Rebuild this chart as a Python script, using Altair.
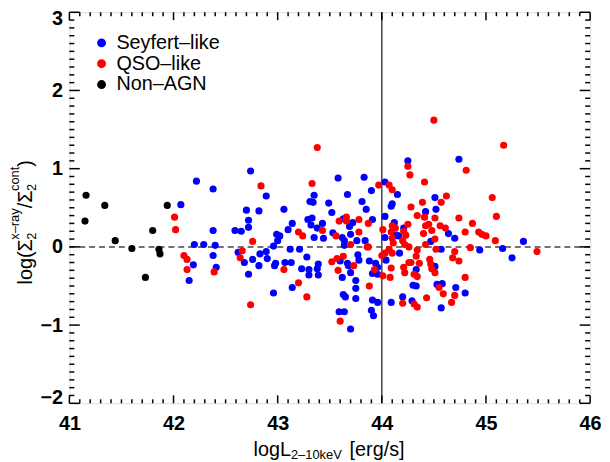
import altair as alt
import pandas as pd

# ---------------- data ----------------
nonagn_x = [41.16, 41.15, 41.34, 41.44, 41.60, 41.73, 41.80, 41.86, 41.87, 41.94]
nonagn_y = [0.66, 0.33, 0.53, 0.08, -0.02, -0.39, 0.21, -0.03, -0.09, 0.53]

qso_x = [42.01, 42.02, 42.10, 42.13, 42.13, 42.39, 42.76, 42.66, 42.64,
         43.38, 42.84, 43.33, 43.43, 43.20, 43.24, 43.06, 43.20, 43.28, 42.74,
         43.60, 43.58, 43.73, 43.52, 43.57, 43.63, 43.88, 43.93, 44.01, 44.08,
         44.09, 44.00, 44.03, 44.10, 44.07, 43.86, 43.87, 43.70, 43.56, 43.78,
         44.01, 44.09, 44.10, 44.11, 43.59, 43.66, 43.66, 43.78, 43.87, 43.97,
         44.07, 44.10,
         44.50, 45.17, 44.81, 44.25, 44.27, 44.41, 44.62, 44.57, 44.39, 44.28,
         44.34, 44.41, 44.51, 44.74, 45.06, 45.10, 44.87, 44.80, 44.93, 44.96,
         45.00, 45.09, 45.49, 44.85, 44.13, 44.10, 44.25, 44.21, 44.23, 44.45,
         44.42, 44.48, 44.40, 44.51, 44.42, 44.56, 44.61, 44.52, 44.20, 44.22,
         44.26, 44.34, 44.33, 44.21, 44.22, 44.26, 44.28, 44.31, 44.34, 44.36,
         44.46, 44.47, 44.48, 44.51, 44.70, 44.68, 44.74, 44.80, 44.55, 44.59,
         44.70, 44.67, 44.43, 44.20, 44.31, 44.34]
qso_y = [0.38, 0.22, -0.11, -0.16, -0.29, -0.32, 0.07, -0.05, -0.14,
         1.27, 0.78, 0.81, 0.21, 0.19, 0.14, -0.29, -0.46, -0.64, -0.74,
         -0.95, -0.30, -0.24, -0.19, -0.15, -0.12, -0.50, -0.29, -0.37, -0.39,
         -0.27, -0.11, -0.08, -0.08, -0.03, 0.00, 0.00, 0.03, 0.14, 0.19,
         0.22, 0.19, 0.11, 0.05, 0.33, 0.38, 0.33, 0.35, 0.30, 0.79,
         0.79, 0.73,
         1.62, 1.30, 0.98, 1.03, 0.92, 0.83, 0.65, 0.57, 0.57, 0.51,
         0.40, 0.38, 0.37, 0.37, 0.63, 0.39, 0.30, 0.19, 0.19, 0.16,
         0.14, 0.08, -0.06, -0.01, 0.24, 0.27, 0.29, 0.20, 0.15, 0.29,
         0.27, 0.21, 0.17, 0.10, 0.03, 0.27, 0.24, -0.03, 0.08, 0.03,
         0.00, -0.04, -0.12, -0.26, -0.33, -0.20, -0.20, -0.35, -0.38, -0.21,
         -0.16, -0.22, -0.28, -0.33, -0.06, -0.14, -0.18, -0.39, -0.52, -0.60,
         -0.62, -0.71, -0.65, -0.72, -0.73, -0.77]

seyfert_x = [42.07, 42.22, 42.38, 42.74, 42.70, 42.72, 42.72, 42.59, 42.65, 42.38,
             42.20, 42.29, 42.40, 42.38, 42.41, 42.19, 42.15, 42.68, 42.72, 42.76,
             42.62,
             42.89, 42.82, 43.06, 43.58, 43.83, 43.67, 43.35, 43.31, 43.34, 43.49,
             43.81, 43.90, 43.85, 43.52, 43.14, 43.10, 43.29, 43.33, 43.32, 43.43,
             43.38, 43.35, 43.44, 42.99, 43.02, 43.00, 42.96, 42.89, 42.83, 42.90,
             42.82, 42.98, 42.97, 43.07, 43.13, 43.12, 43.21, 43.28, 43.23, 43.30,
             43.30, 43.38, 43.39, 43.39, 43.14, 42.96, 43.59, 43.64, 43.70, 43.63,
             43.65, 43.75, 43.75, 43.75, 43.62, 43.70, 43.60, 43.67, 43.68, 43.77,
             43.78, 43.88, 43.91, 43.96, 43.90, 43.92, 43.94, 43.96, 43.91, 43.96,
             44.09, 44.04, 43.64, 43.64, 43.76, 43.84, 43.53, 43.70, 43.62, 44.03,
             43.63, 43.72, 43.69, 43.91, 44.03, 44.09, 44.10, 44.03,
             44.74, 44.25, 44.15, 44.51, 44.52, 44.42, 45.36, 45.25, 45.16, 44.94,
             44.12, 44.21, 44.14, 44.16, 44.47, 44.64, 44.70, 44.57, 44.17, 44.33,
             44.51, 44.30, 44.33, 44.53, 44.58, 44.71, 44.80, 44.20, 44.29, 44.57]
seyfert_y = [0.54, 0.84, 0.74, 0.97, 0.47, 0.34, 0.25, 0.21, 0.20, 0.21,
             0.03, 0.03, 0.02, -0.11, -0.26, -0.23, -0.43, -0.20, -0.35, -0.16,
             -0.07,
             0.65, 0.46, 0.48, 0.88, 0.89, 0.67, 0.66, 0.58, 0.57, 0.56,
             0.58, 0.72, 0.48, 0.44, 0.30, 0.22, 0.35, 0.37, 0.28, 0.30,
             0.24, 0.12, 0.11, 0.16, 0.14, 0.08, 0.01, -0.06, -0.09, -0.15,
             -0.24, -0.21, -0.24, -0.20, -0.20, -0.03, -0.03, -0.13, -0.28, -0.29,
             -0.36, -0.28, -0.36, -0.22, -0.52, -0.59, -0.83, -0.83, -1.05, -0.61,
             -0.64, -0.53, -0.43, -0.66, -0.39, -0.33, -0.18, -0.21, -0.24, -0.10,
             -0.17, -0.18, -0.68, -0.71, -0.81, -0.88, -0.21, -0.26, -0.34, -0.35,
             -0.71, -0.17, 0.08, 0.02, 0.08, 0.08, 0.18, 0.16, 0.12, 0.12,
             0.36, 0.31, 0.26, 0.35, 0.39, 0.52, 0.55, 0.83,
             1.12, 1.10, 0.67, 0.63, 0.48, 0.45, 0.07, -0.14, -0.02, -0.04,
             0.31, 0.24, 0.15, 0.14, 0.07, 0.17, 0.11, -0.03, -0.08, -0.29,
             -0.25, -0.49, -0.50, -0.48, -0.47, -0.52, -0.59, -0.64, -0.69, -0.78]

categories = ["Seyfert–like", "QSO–like", "Non–AGN"]
colors = ["#0000ff", "#ff0000", "#000000"]

XMIN, XMAX, YMIN, YMAX = 41, 46, -2, 3
x_major = [41, 42, 43, 44, 45, 46]
y_major = [-2, -1, 0, 1, 2, 3]
x_all = [round(41 + i / 10, 1) for i in range(51)]
y_all = [round(-2 + i / 10, 1) for i in range(51)]
x_split = [44]
y_split = [0]

W, H = 526, 395
FONT = "Liberation Sans"

pts = pd.concat([
    pd.DataFrame({"x": seyfert_x, "y": seyfert_y, "cls": categories[0]}),
    pd.DataFrame({"x": qso_x, "y": qso_y, "cls": categories[1]}),
    pd.DataFrame({"x": nonagn_x, "y": nonagn_y, "cls": categories[2]}),
], ignore_index=True)

xscale = alt.Scale(domain=[XMIN, XMAX], nice=False, zero=False)
yscale = alt.Scale(domain=[YMIN, YMAX], nice=False, zero=False)

xaxis = alt.Axis(title=None, values=x_major, format="d", grid=False, domain=False,
                 ticks=False, tickSize=0, labelFontSize=20, labelFont=FONT,
                 labelFontWeight="bold", labelColor="black", labelPadding=10,
                 labelFlush=False)
yaxis = alt.Axis(title=None, values=y_major, format="d", grid=False, domain=False,
                 ticks=False, tickSize=0, labelFontSize=20, labelFont=FONT,
                 labelFontWeight="bold", labelColor="black", labelPadding=7,
                 labelFlush=False,
                 labelOffset={"condition": {"test": "datum.value == 3", "value": 6}, "value": 0},
                 labelBaseline={"condition": {"test": "datum.value == -2", "value": "alphabetic"},
                                "value": "middle"})


def X(f):
    return alt.X(f, type="quantitative", scale=xscale, axis=xaxis)


def Y(f):
    return alt.Y(f, type="quantitative", scale=yscale, axis=yaxis)


layers = []

# reference lines
layers.append(alt.Chart(pd.DataFrame({"v": y_split})).mark_rule(
    color="#444444", strokeWidth=1.5, strokeDash=[6, 4]).encode(y=Y("v")))
layers.append(alt.Chart(pd.DataFrame({"v": x_split})).mark_rule(
    color="#444444", strokeWidth=1.5).encode(x=X("v")))

# points
layers.append(alt.Chart(pts).mark_circle(size=52, opacity=1).encode(
    x=X("x"), y=Y("y"),
    color=alt.Color("cls:N", scale=alt.Scale(domain=categories, range=colors),
                    sort=categories,
                    legend=alt.Legend(title=None, orient="none", legendX=22.5, legendY=21,
                                      labelFontSize=20, labelFont=FONT, labelColor="black",
                                      symbolType="circle", symbolSize=80, symbolStrokeWidth=0,
                                      labelOffset=5, rowPadding=1, padding=0)),
))

# inward axis ticks on all four frame edges (same linear mapping as the scales)
one = pd.DataFrame({"k": [0]})


def is_major(v):
    return abs(v - round(v)) < 1e-6


def tick_rule(**enc):
    return alt.Chart(one).mark_rule(color="black", strokeWidth=1.5).encode(**enc)


for v in x_all:
    px = (v - XMIN) / (XMAX - XMIN) * W
    ln = 8 if is_major(v) else 4
    layers.append(tick_rule(x=alt.value(px), y=alt.value(H), y2=alt.value(H - ln)))
    layers.append(tick_rule(x=alt.value(px), y=alt.value(0), y2=alt.value(ln)))
for v in y_all:
    py = (YMAX - v) / (YMAX - YMIN) * H
    ln = 10.5 if is_major(v) else 5
    layers.append(tick_rule(y=alt.value(py), x=alt.value(0), x2=alt.value(ln)))
    layers.append(tick_rule(y=alt.value(py), x=alt.value(W), x2=alt.value(W - ln)))


# axis titles built from text pieces (sub/superscripts)
def txt(s, x, y, size, angle=0):
    return alt.Chart(pd.DataFrame({"t": [s]})).mark_text(
        font=FONT, fontSize=size, color="black", align="left", baseline="alphabetic",
        angle=angle).encode(text="t:N", x=alt.value(x), y=alt.value(y))


layers += [
    txt("logL", 186, 448, 20),
    txt("2–10keV", 223.8, 451, 13),
    txt("[erg/s]", 283, 448, 20),
]

MB, SUP, SUB = -38, -51, -34
layers += [
    txt("log(Σ", MB, 275, 20, 270),
    txt("x–ray", SUP, 229.8, 13, 270),
    txt("2", SUB, 229.8, 13, 270),
    txt("/Σ", MB, 198, 20, 270),
    txt("cont", SUP, 180.6, 13, 270),
    txt("2", SUB, 180.6, 13, 270),
    txt(")", MB, 156, 20, 270),
]

chart = alt.layer(*layers).properties(
    width=W, height=H,
    autosize=alt.AutoSizeParams(type="none"),
    padding={"left": 62, "top": 2, "right": 12, "bottom": 58},
).configure_view(stroke="black", strokeWidth=2).configure(background="white")

chart.save("out.html", embed_options={"renderer": "svg", "actions": False})
